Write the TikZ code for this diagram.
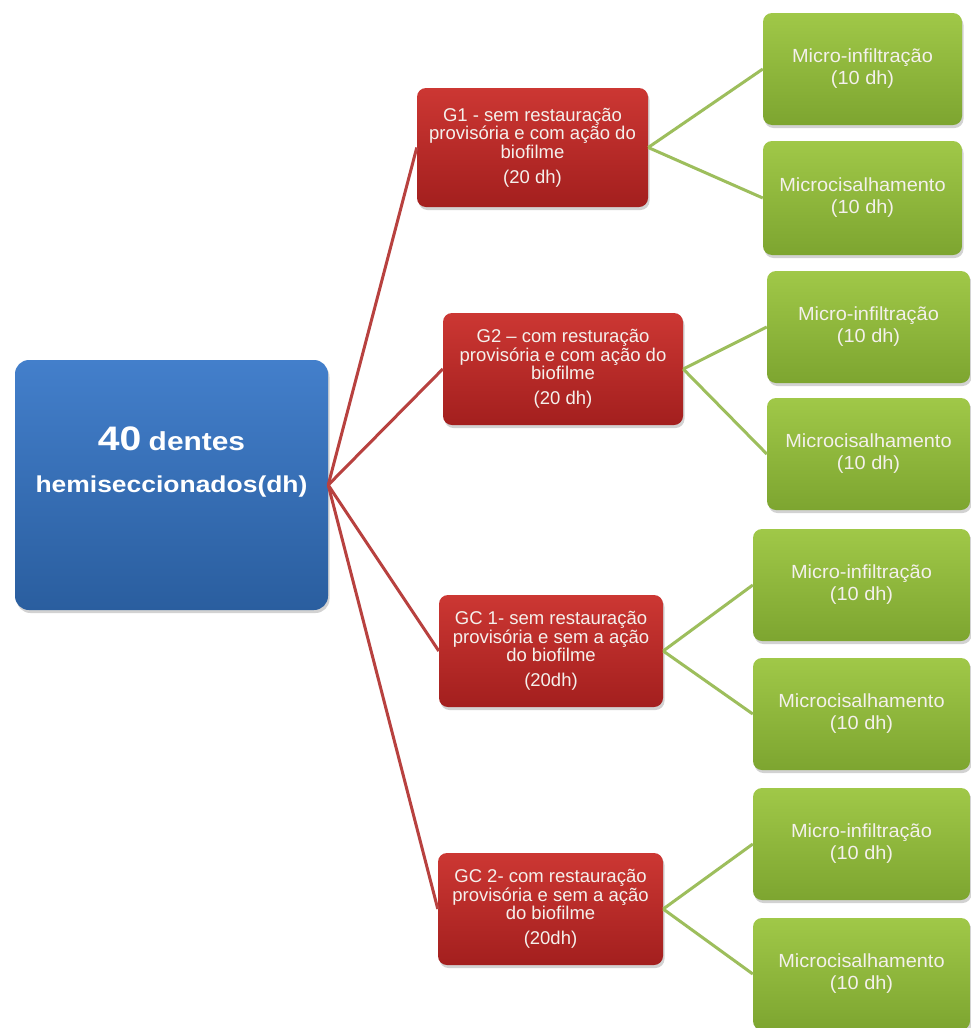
\documentclass[tikz,border=0pt]{standalone}
\usepackage{fontspec}
\setmainfont{Liberation Sans}
\newfontfamily\widefont[FakeStretch=1.05]{Liberation Sans}
\newfontfamily\rootfont[FakeStretch=1.15]{Liberation Sans}
\usetikzlibrary{shadows}
\definecolor{bluetop}{HTML}{437FCB}
\definecolor{bluebot}{HTML}{2A5E9F}
\definecolor{redtop}{HTML}{CC3733}
\definecolor{redbot}{HTML}{A31F1E}
\definecolor{greentop}{HTML}{A0C848}
\definecolor{greenbot}{HTML}{7DA530}
\definecolor{redline}{HTML}{B8413F}
\definecolor{greenline}{HTML}{9DBE5C}
\definecolor{boxtext}{HTML}{F4F0EC}
\begin{document}
\begin{tikzpicture}[x=1pt,y=-1pt,
  box/.style={rectangle, rounded corners=9pt, draw=none, align=center, text=boxtext, inner sep=2pt,
    drop shadow={shadow xshift=1.5pt, shadow yshift=-3pt, opacity=0.35}},
  rootbox/.style={box, top color=bluetop, bottom color=bluebot, minimum width=313pt, minimum height=250pt, rounded corners=14pt},
  roottext/.style={align=center, text=white, inner sep=0pt, font=\rootfont\bfseries\fontsize{23}{42}\selectfont},
  groupbox/.style={box, top color=redtop, bottom color=redbot, minimum height=112pt, font=\fontsize{18.5}{18.5}\selectfont},
  testbox/.style={box, top color=greentop, bottom color=greenbot, minimum height=112pt, font=\widefont\fontsize{19}{22}\selectfont},
  redlink/.style={draw=redline, line width=3pt},
  greenlink/.style={draw=greenline, line width=3pt}]
\useasboundingbox[fill=white] (0,0) rectangle (971,1028);

% root
\node[rootbox] (root) at (171.5,485) {};
\node[roottext] (roottxt) at (171.5,462) {{\fontsize{34}{34}\selectfont 40} {\fontsize{26}{26}\selectfont dentes}\\
  hemiseccionados(dh)};

% groups
\node[groupbox, minimum width=231pt, minimum height=119pt] (g1) at (532.5,147.5)
  {G1 - sem restauração\\provisória e com ação do\\biofilme\\[6.5pt](20 dh)};
\node[groupbox, minimum width=240pt] (g2) at (563,369)
  {G2 -- com resturação\\provisória e com ação do\\biofilme\\[6.5pt](20 dh)};
\node[groupbox, minimum width=224pt] (gc1) at (551,651)
  {GC 1- sem restauração\\provisória e sem a ação\\do biofilme\\[6.5pt](20dh)};
\node[groupbox, minimum width=225pt] (gc2) at (550.5,909)
  {GC 2- com restauração\\provisória e sem a ação\\do biofilme\\[6.5pt](20dh)};

% tests
\node[testbox, minimum width=199pt] (g1a) at (862.5,69) {Micro-infiltração\\(10 dh)};
\node[testbox, minimum width=199pt, minimum height=114pt] (g1b) at (862.5,198) {Microcisalhamento\\(10 dh)};
\node[testbox, minimum width=203pt] (g2a) at (868.5,327) {Micro-infiltração\\(10 dh)};
\node[testbox, minimum width=203pt] (g2b) at (868.5,454) {Microcisalhamento\\(10 dh)};
\node[testbox, minimum width=217pt] (gc1a) at (861.5,585) {Micro-infiltração\\(10 dh)};
\node[testbox, minimum width=217pt] (gc1b) at (861.5,714) {Microcisalhamento\\(10 dh)};
\node[testbox, minimum width=217pt] (gc2a) at (861.5,844) {Micro-infiltração\\(10 dh)};
\node[testbox, minimum width=217pt] (gc2b) at (861.5,974) {Microcisalhamento\\(10 dh)};

% connectors
\draw[redlink] (root.east) -- (g1.west);
\draw[redlink] (root.east) -- (g2.west);
\draw[redlink] (root.east) -- (gc1.west);
\draw[redlink] (root.east) -- (gc2.west);
\draw[greenlink] (g1.east) -- (g1a.west);
\draw[greenlink] (g1.east) -- (g1b.west);
\draw[greenlink] (g2.east) -- (g2a.west);
\draw[greenlink] (g2.east) -- (g2b.west);
\draw[greenlink] (gc1.east) -- (gc1a.west);
\draw[greenlink] (gc1.east) -- (gc1b.west);
\draw[greenlink] (gc2.east) -- (gc2a.west);
\draw[greenlink] (gc2.east) -- (gc2b.west);
\end{tikzpicture}
\end{document}
